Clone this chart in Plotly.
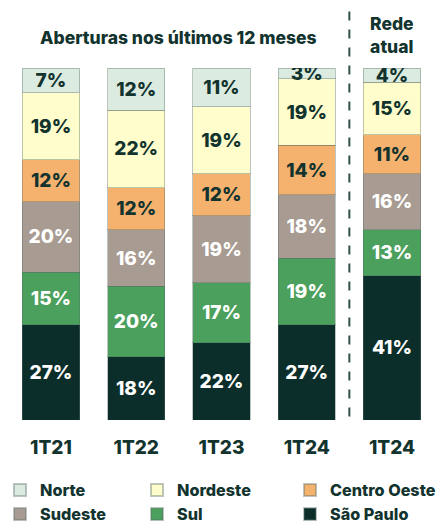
import plotly.graph_objects as go

categories = ["1T21", "1T22", "1T23", "1T24", "1T24"]
series_names = ["São Paulo", "Sul", "Sudeste", "Centro Oeste", "Nordeste", "Norte"]
sao_paulo = [27, 18, 22, 27, 41]
sul = [15, 20, 17, 19, 13]
sudeste = [20, 16, 19, 18, 16]
centro_oeste = [12, 12, 12, 14, 11]
nordeste = [19, 22, 19, 19, 15]
norte = [7, 12, 11, 3, 4]

values = [sao_paulo, sul, sudeste, centro_oeste, nordeste, norte]
colors = ["#0b2e2a", "#4aa05c", "#a89b92", "#f4b26e", "#fefdcb", "#dbebdf"]
text_colors = ["white", "white", "white", "#12332e", "#12332e", "#12332e"]
legend_ids = ["legend3", "legend2", "legend", "legend3", "legend2", "legend"]

DARK = "#12332e"
FONT = "Inter"
W = 800
xpos = list(range(len(categories)))

fig = go.Figure()
for name, vals, col, tcol, lg in zip(series_names, values, colors, text_colors, legend_ids):
    fig.add_trace(go.Bar(
        x=xpos, y=vals, name=name, legend=lg, legendgroup=lg,
        marker=dict(color=col, line=dict(color="rgba(90,110,105,0.4)", width=1)),
        text=[f"{v}%" for v in vals],
        textposition="inside", insidetextanchor="middle",
        textfont=dict(family=FONT, size=19, color=tcol, weight=W),
        width=0.67,
        hoverinfo="skip",
    ))

legend_common = dict(orientation="h", xref="container", yref="container",
                     xanchor="left", y=0.099, yanchor="top",
                     traceorder="reversed+grouped", bgcolor="rgba(0,0,0,0)",
                     font=dict(family=FONT, size=16.2, color=DARK, weight=W),
                     itemsizing="constant", tracegroupgap=0)

fig.update_layout(
    barmode="stack",
    width=441, height=525,
    margin=dict(l=0, r=0, t=68, b=105),
    paper_bgcolor="white", plot_bgcolor="white",
    uniformtext=dict(minsize=19, mode="show"),
    xaxis=dict(range=[-0.598, 4.575], tickvals=xpos, ticktext=categories,
               showgrid=False, zeroline=False, showline=False, ticks="",
               tickfont=dict(family=FONT, size=19, color=DARK, weight=W),
               ticklabelstandoff=14, fixedrange=True),
    yaxis=dict(range=[0, 100], visible=False, fixedrange=True),
    showlegend=True,
    legend=dict(x=0.0, **legend_common),
    legend2=dict(x=0.3107, **legend_common),
    legend3=dict(x=0.6576, **legend_common),
    font=dict(family=FONT, color=DARK),
)

fig.add_annotation(x=1.5, xref="x", y=1.0, yref="paper", yanchor="middle", yshift=31,
                   text="Aberturas nos últimos 12 meses", showarrow=False,
                   font=dict(family=FONT, size=17.5, color=DARK, weight=W))
fig.add_annotation(x=4, xref="x", y=1.0, yref="paper", yanchor="middle", yshift=33,
                   text="Rede<br>atual", showarrow=False,
                   font=dict(family=FONT, size=17.5, color=DARK, weight=W))

fig.add_shape(type="line", xref="x", yref="paper", x0=3.5, x1=3.5, y0=0.01, y1=1.178,
              line=dict(color="#2f504b", width=2, dash="dash"))

fig.write_html("out.html", config={"displayModeBar": False},
               post_script="document.body.style.margin='0';")
